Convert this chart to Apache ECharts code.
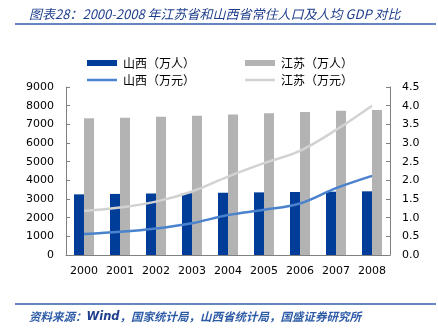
<!DOCTYPE html>
<html>
<head>
<meta charset="utf-8">
<script src="https://cdn.jsdelivr.net/npm/echarts@6/dist/echarts.min.js"></script>
<style>
  html, body { margin: 0; padding: 0; background: #fff; }
  #chart { width: 438px; height: 332px; }
</style>
</head>
<body>
<div id="chart"></div>
<script>
// Years on the category axis
var years = ['2000', '2001', '2002', '2003', '2004', '2005', '2006', '2007', '2008'];

// Resident population (10k persons)
var shanxiPop = [3248, 3272, 3294, 3314, 3335, 3355, 3375, 3393, 3411];
var jiangsuPop = [7327, 7359, 7406, 7458, 7523, 7588, 7656, 7723, 7762];

// GDP per capita (10k yuan)
var shanxiGdp = [0.56, 0.62, 0.71, 0.85, 1.07, 1.21, 1.38, 1.79, 2.12];
var jiangsuGdp = [1.18, 1.27, 1.43, 1.70, 2.10, 2.46, 2.79, 3.35, 4.00];

// Series names
var names = ['山西（万人）', '江苏（万人）', '山西（万元）', '江苏（万元）'];

var FONT = '"DejaVu Sans", Verdana, sans-serif';
var CJK = '"Noto Sans CJK SC", sans-serif';
var axisGray = '#808080';

var chart = echarts.init(document.getElementById('chart'), null, { renderer: 'canvas' });

function legendAt(name, left, top, isLine) {
  return {
    data: [{ name: name, icon: 'rect' }],
    left: left, top: top,
    itemWidth: 30, itemHeight: isLine ? 2.5 : 6,
    itemGap: 0, padding: 0,
    textStyle: { fontFamily: CJK, fontSize: 12, color: '#000', padding: [0, 0, 0, 1] },
    selectedMode: false
  };
}

var option = {
  animation: false,
  backgroundColor: '#fff',
  title: [{
    text: '图表28：2000-2008 年江苏省和山西省常住人口及人均 GDP 对比',
    left: 24, top: 3,
    textStyle: { fontFamily: CJK, fontSize: 13, fontStyle: 'italic', fontWeight: 'normal', color: '#1F3F8C' }
  }, {
    text: '{a|资料来源：}{b|Wind}{a|，国家统计局，山西省统计局，国盛证券研究所}',
    left: 24, top: 306,
    textStyle: {
      rich: {
        a: { fontFamily: CJK, fontSize: 11.5, fontStyle: 'italic', color: '#2E5BA6' },
        b: { fontFamily: FONT, fontSize: 11.5, fontStyle: 'italic', color: '#1F3F8C' }
      }
    }
  }],
  graphic: [
    { type: 'line', shape: { x1: 15, y1: 24, x2: 436, y2: 24 }, style: { stroke: '#2F5FA8', lineWidth: 1.6 } },
    { type: 'line', shape: { x1: 15, y1: 304, x2: 436, y2: 304 }, style: { stroke: '#2F5FA8', lineWidth: 1.6 } }
  ],
  legend: [
    legendAt(names[0], 87, 57, false),
    legendAt(names[1], 245, 57, false),
    legendAt(names[2], 87, 74, true),
    legendAt(names[3], 245, 74, true)
  ],
  grid: { left: 66, right: 48, top: 87, bottom: 77, containLabel: false },
  xAxis: {
    type: 'category',
    data: years,
    axisLine: { lineStyle: { color: axisGray, width: 1 } },
    axisTick: { inside: true, length: 4, lineStyle: { color: axisGray } },
    axisLabel: { fontFamily: FONT, fontSize: 11, color: '#000', margin: 11, interval: 0 }
  },
  yAxis: [{
    type: 'value', min: 0, max: 9000, interval: 1000,
    axisLine: { show: true, lineStyle: { color: axisGray } },
    axisTick: { show: true, inside: true, length: 4, lineStyle: { color: axisGray } },
    axisLabel: { fontFamily: FONT, fontSize: 11, color: '#000', margin: 12,
      formatter: function (v) { return String(v); } },
    splitLine: { show: false }
  }, {
    type: 'value', min: 0, max: 4.5, interval: 0.5,
    axisLine: { show: true, lineStyle: { color: axisGray } },
    axisTick: { show: true, inside: true, length: 4, lineStyle: { color: axisGray } },
    axisLabel: { fontFamily: FONT, fontSize: 11, color: '#000', margin: 12,
      formatter: function (v) { return v.toFixed(1); } },
    splitLine: { show: false }
  }],
  series: [{
    name: names[0], type: 'bar', data: shanxiPop, yAxisIndex: 0,
    barWidth: 10, barGap: '0%',
    itemStyle: { color: '#003D99' }
  }, {
    name: names[1], type: 'bar', data: jiangsuPop, yAxisIndex: 0,
    barWidth: 10, barGap: '0%',
    itemStyle: { color: '#B3B3B3' }
  }, {
    name: names[2], type: 'line', data: shanxiGdp, yAxisIndex: 1,
    smooth: 0.35, symbol: 'none',
    lineStyle: { color: '#4A82CE', width: 2.5 },
    itemStyle: { color: '#4A82CE' }
  }, {
    name: names[3], type: 'line', data: jiangsuGdp, yAxisIndex: 1,
    smooth: 0.35, symbol: 'none',
    lineStyle: { color: '#D2D2D2', width: 2.5 },
    itemStyle: { color: '#D2D2D2' }
  }]
};

chart.setOption(option);
</script>
</body>
</html>
